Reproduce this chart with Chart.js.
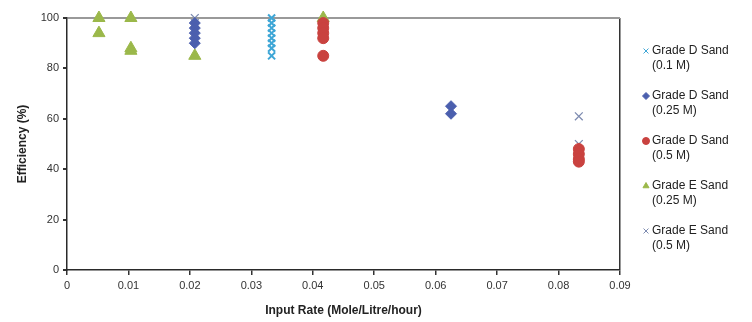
<!DOCTYPE html>
<html>
<head>
<meta charset="utf-8">
<script src="https://cdn.jsdelivr.net/npm/chart.js@4/dist/chart.umd.min.js"></script>
<style>
  body { margin: 0; background: #fff; }
  #wrap { width: 752px; height: 322px; position: relative; }
</style>
</head>
<body>
<div id="wrap"><canvas id="effChart"></canvas></div>
<script>
// values
const dSand01X = [0.0333, 0.0333, 0.0333, 0.0333, 0.0333, 0.0333, 0.0333, 0.0333];
const dSand01Y = [100, 98, 96, 94, 92, 90, 88, 85];

const dSand025X = [0.0208, 0.0208, 0.0208, 0.0208, 0.0208, 0.0625, 0.0625];
const dSand025Y = [98, 96, 94, 92, 90, 65, 62];

const dSand05X = [0.0417, 0.0417, 0.0417, 0.0417, 0.0417, 0.0833, 0.0833, 0.0833, 0.0833];
const dSand05Y = [98, 96, 94, 92, 85, 48, 46, 44, 43];

const eSand025X = [0.0052, 0.0052, 0.0104, 0.0104, 0.0104, 0.0208, 0.0417];
const eSand025Y = [100, 94, 100, 88, 87, 85, 100];

const eSand05X = [0.0208, 0.0208, 0.0833, 0.0833, 0.0833];
const eSand05Y = [100, 98, 61, 50, 43];

const xTicks = [0, 0.01, 0.02, 0.03, 0.04, 0.05, 0.06, 0.07, 0.08, 0.09];
const yTicks = [0, 20, 40, 60, 80, 100];

const seriesNames = [
    ['Grade D Sand', '(0.1 M)'],
    ['Grade D Sand', '(0.25 M)'],
    ['Grade D Sand', '(0.5 M)'],
    ['Grade E Sand', '(0.25 M)'],
    ['Grade E Sand', '(0.5 M)']
];

// Function to zip x and y arrays into points
function toPoints(xs, ys) {
    return xs.map((x, i) => ({x: x, y: ys[i]}));
}

const styles = [
    {color: '#3ea6d6', shape: 'crossRot', r: 5, w: 2},
    {color: '#4b5fae', shape: 'rectRot', r: 5.5, w: 1},
    {color: '#c9423f', shape: 'circle', r: 5.5, w: 1},
    {color: '#9bb84a', shape: 'triangle', r: 7, w: 1},
    {color: '#7d8bb0', shape: 'crossRot', r: 5.5, w: 1.3}
];

const allData = [
    toPoints(dSand01X, dSand01Y),
    toPoints(dSand025X, dSand025Y),
    toPoints(dSand05X, dSand05Y),
    toPoints(eSand025X, eSand025Y),
    toPoints(eSand05X, eSand05Y)
];

const datasets = allData.map((pts, i) => ({
    label: seriesNames[i].join(' '),
    data: pts,
    clip: false,
    pointStyle: styles[i].shape,
    pointRadius: styles[i].r,
    pointBorderWidth: styles[i].w,
    backgroundColor: styles[i].color,
    borderColor: styles[i].color
}));

// Legend drawn by hand so labels can wrap over two lines
const sideLegend = {
    id: 'sideLegend',
    afterDraw(chart) {
        const ctx = chart.ctx;
        ctx.save();
        ctx.font = '12px "Liberation Sans", Arial, sans-serif';
        ctx.textBaseline = 'middle';
        const x0 = 646;
        let y = 51;
        seriesNames.forEach((lines, i) => {
            const st = styles[i];
            ctx.strokeStyle = st.color;
            ctx.fillStyle = st.color;
            ctx.lineWidth = 1;
            Chart.helpers.drawPoint(ctx, {pointStyle: st.shape, radius: 3.5, borderWidth: 1}, x0, y);
            ctx.fillStyle = '#222';
            ctx.fillText(lines[0], x0 + 6, y);
            ctx.fillText(lines[1], x0 + 6, y + 15);
            y += 45;
        });
        ctx.restore();
    }
};

const ctx = document.getElementById('effChart').getContext('2d');
const effChart = new Chart(ctx, {
    type: 'scatter',
    data: { datasets: datasets },
    options: {
        responsive: true,
        maintainAspectRatio: false,
        animation: false,
        layout: { padding: { left: 15, right: 132, top: 18, bottom: 4 } },
        plugins: {
            legend: { display: false },
            tooltip: { enabled: false }
        },
        scales: {
            x: {
                type: 'linear',
                min: 0,
                max: 0.09,
                afterBuildTicks: axis => { axis.ticks = xTicks.map(v => ({value: v})); },
                afterFit: axis => { axis.height = 48; },
                border: { color: '#2a2a2a', width: 1.5 },
                grid: {
                    color: c => (c.tick && Math.abs(c.tick.value - 0.09) < 1e-9) ? '#333' : 'transparent',
                    lineWidth: 1.5,
                    tickColor: '#333',
                    tickLength: 5,
                    drawOnChartArea: true
                },
                ticks: {
                    color: '#333',
                    font: { family: '"Liberation Sans", Arial, sans-serif', size: 11 },
                    padding: 4,
                    maxRotation: 0,
                    callback: v => String(Number(v.toFixed(2)))
                },
                title: {
                    display: true,
                    text: 'Input Rate (Mole/Litre/hour)',
                    color: '#222',
                    font: { family: '"Liberation Sans", Arial, sans-serif', size: 12, weight: 'bold' },
                    padding: { top: 2, bottom: 0 }
                }
            },
            y: {
                min: 0,
                max: 100,
                afterBuildTicks: axis => { axis.ticks = yTicks.map(v => ({value: v})); },
                afterFit: axis => { axis.width = 52; },
                border: { color: '#2a2a2a', width: 1.5 },
                grid: {
                    color: c => (c.tick && c.tick.value === 100) ? '#999' : 'transparent',
                    lineWidth: 2,
                    tickColor: '#333',
                    tickLength: 4
                },
                ticks: {
                    color: '#333',
                    font: { family: '"Liberation Sans", Arial, sans-serif', size: 11 },
                    padding: 4
                },
                title: {
                    display: true,
                    text: 'Efficiency (%)',
                    color: '#222',
                    font: { family: '"Liberation Sans", Arial, sans-serif', size: 12, weight: 'bold' },
                    padding: { top: 0, bottom: 4 }
                }
            }
        }
    },
    plugins: [sideLegend]
});
</script>
</body>
</html>
